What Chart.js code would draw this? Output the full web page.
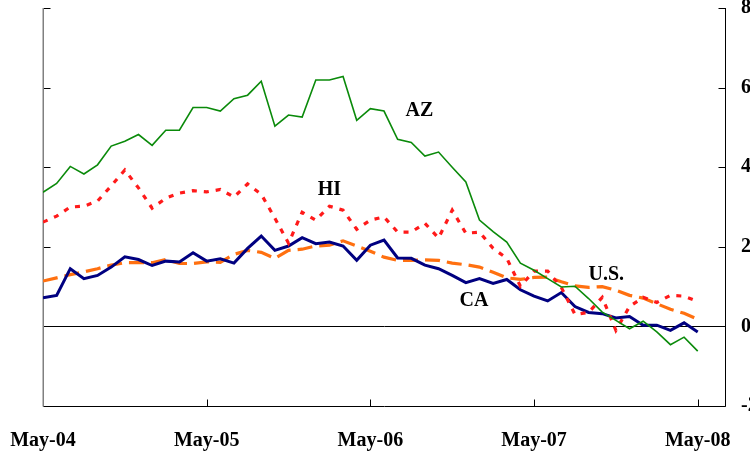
<!DOCTYPE html>
<html>
<head>
<meta charset="utf-8">
<script src="https://cdn.jsdelivr.net/npm/chart.js@4"></script>
<style>
  html, body { margin: 0; padding: 0; background: #ffffff; }
  #c { display: block; }
</style>
</head>
<body>
<canvas id="c" width="750" height="453"></canvas>
<script>
// ---- DATA (monthly, May-04 .. May-08) ----
const months = [
  'May-04','Jun-04','Jul-04','Aug-04','Sep-04','Oct-04','Nov-04','Dec-04','Jan-05','Feb-05','Mar-05','Apr-05',
  'May-05','Jun-05','Jul-05','Aug-05','Sep-05','Oct-05','Nov-05','Dec-05','Jan-06','Feb-06','Mar-06','Apr-06',
  'May-06','Jun-06','Jul-06','Aug-06','Sep-06','Oct-06','Nov-06','Dec-06','Jan-07','Feb-07','Mar-07','Apr-07',
  'May-07','Jun-07','Jul-07','Aug-07','Sep-07','Oct-07','Nov-07','Dec-07','Jan-08','Feb-08','Mar-08','Apr-08',
  'May-08'
];
const azValues = [3.37,3.59,4.02,3.83,4.06,4.53,4.65,4.82,4.55,4.93,4.93,5.50,5.50,5.41,5.72,5.81,6.16,5.03,5.31,5.26,6.19,6.19,6.28,5.18,5.47,5.41,4.70,4.62,4.28,4.38,4.00,3.63,2.67,2.38,2.12,1.59,1.41,1.20,0.99,1.01,0.70,0.36,0.15,-0.06,0.13,-0.14,-0.46,-0.27,-0.62];
const caValues = [0.72,0.78,1.45,1.20,1.28,1.49,1.75,1.68,1.53,1.64,1.62,1.85,1.64,1.70,1.59,1.96,2.27,1.91,2.02,2.23,2.08,2.12,2.02,1.66,2.04,2.17,1.72,1.71,1.54,1.45,1.28,1.10,1.20,1.08,1.18,0.92,0.76,0.64,0.85,0.50,0.35,0.32,0.21,0.25,0.03,0.03,-0.10,0.09,-0.14];
const usValues = [1.14,1.22,1.30,1.37,1.45,1.54,1.60,1.60,1.60,1.68,1.58,1.58,1.62,1.61,1.81,1.91,1.86,1.71,1.91,1.94,2.02,2.04,2.15,2.02,1.89,1.74,1.66,1.66,1.67,1.66,1.59,1.55,1.49,1.36,1.22,1.18,1.23,1.24,1.12,1.02,0.98,1.00,0.91,0.78,0.71,0.57,0.43,0.33,0.18];
const hiValues = [2.62,2.77,3.00,3.02,3.15,3.53,3.93,3.48,2.97,3.22,3.35,3.41,3.38,3.44,3.25,3.58,3.32,2.72,2.09,2.87,2.67,3.02,2.92,2.44,2.67,2.75,2.37,2.37,2.59,2.22,2.92,2.34,2.37,1.96,1.71,1.01,1.39,1.39,0.98,0.30,0.35,0.73,-0.10,0.50,0.73,0.60,0.78,0.76,0.63];
const xTickMonths = [0, 12, 24, 36, 48];
const xTickLabels = ['May-04','May-05','May-06','May-07','May-08'];
const yTicks = [-2, 0, 2, 4, 6, 8];
const seriesNames = ['AZ', 'HI', 'CA', 'U.S.'];
// label anchors in data coordinates (month index, value)
const labelMonth = [27.6, 21.0, 31.6, 41.3];
const labelValue = [5.42, 3.43, 0.64, 1.30];

const FONT = "'Liberation Serif', 'Times New Roman', serif";
const toXY = arr => arr.map((v, i) => ({ x: i, y: v }));

const axesPlugin = {
  id: 'axesPlugin',
  beforeDatasetsDraw(chart) {
    const ctx = chart.ctx;
    const xs = chart.scales.x, ys = chart.scales.y;
    const L = Math.round(xs.left) + 0.5, R = Math.round(xs.right) + 0.5;
    const T = Math.round(ys.top), B = Math.round(ys.bottom) + 0.5;
    ctx.save();
    ctx.lineWidth = 1;
    // zero line
    const y0 = Math.round(ys.getPixelForValue(0)) + 0.5;
    ctx.strokeStyle = '#000000';
    ctx.beginPath(); ctx.moveTo(L, y0); ctx.lineTo(R, y0); ctx.stroke();
    // bottom axis
    ctx.beginPath(); ctx.moveTo(L, B); ctx.lineTo(R, B); ctx.stroke();
    // right axis
    ctx.beginPath(); ctx.moveTo(R, T); ctx.lineTo(R, B); ctx.stroke();
    // y ticks (inside on both sides)
    yTicks.forEach(v => {
      const y = Math.round(ys.getPixelForValue(v)) + 0.5;
      ctx.beginPath(); ctx.moveTo(R - 7, y); ctx.lineTo(R, y); ctx.stroke();
      ctx.beginPath(); ctx.moveTo(L, y); ctx.lineTo(L + 7, y); ctx.stroke();
    });
    // x ticks (inside, upward)
    xTickMonths.slice(1).forEach(m => {
      const x = Math.round(xs.getPixelForValue(m)) + 0.5;
      ctx.beginPath(); ctx.moveTo(x, B - 7); ctx.lineTo(x, B); ctx.stroke();
    });
    // left axis (grey)
    ctx.strokeStyle = '#808080';
    ctx.lineWidth = 1.5;
    ctx.beginPath(); ctx.moveTo(L - 0.25, T); ctx.lineTo(L - 0.25, B); ctx.stroke();
    ctx.restore();
  },
  afterDatasetsDraw(chart) {
    const ctx = chart.ctx;
    const xs = chart.scales.x, ys = chart.scales.y;
    ctx.save();
    ctx.fillStyle = '#000000';
    ctx.font = 'bold 20px ' + FONT;
    ctx.textAlign = 'center';
    ctx.textBaseline = 'middle';
    seriesNames.forEach((n, i) => {
      ctx.fillText(n, xs.getPixelForValue(labelMonth[i]), ys.getPixelForValue(labelValue[i]));
    });
    ctx.restore();
  }
};

new Chart(document.getElementById('c'), {
  type: 'line',
  data: {
    datasets: [
      { label: 'AZ', data: toXY(azValues), borderColor: '#0a8a0a', borderWidth: 1.6, pointRadius: 0, tension: 0, fill: false, order: 1 },
      { label: 'HI', data: toXY(hiValues), borderColor: '#ff1a1a', borderWidth: 3.2, borderDash: [5, 7], pointRadius: 0, tension: 0, fill: false, order: 2 },
      { label: 'CA', data: toXY(caValues), borderColor: '#000080', borderWidth: 3, pointRadius: 0, tension: 0, fill: false, order: 3 },
      { label: 'U.S.', data: toXY(usValues), borderColor: '#ff7010', borderWidth: 3.2, borderDash: [15, 7], pointRadius: 0, tension: 0, fill: false, order: 4 }
    ]
  },
  options: {
    responsive: false,
    animation: false,
    devicePixelRatio: 1,
    layout: { padding: { left: 43, top: 8, right: 0, bottom: 0 } },
    plugins: { legend: { display: false }, tooltip: { enabled: false } },
    scales: {
      x: {
        type: 'linear',
        min: 0,
        max: 50,
        grid: { display: false, drawTicks: false },
        border: { display: false },
        afterBuildTicks: s => { s.ticks = xTickMonths.map(v => ({ value: v })); },
        ticks: {
          autoSkip: false,
          maxRotation: 0,
          padding: 23,
          color: '#000000',
          font: { family: FONT, size: 20, weight: 'bold' },
          callback: v => xTickLabels[xTickMonths.indexOf(v)] || ''
        },
        afterFit: s => { s.height = 47; s.paddingLeft = 0; s.paddingRight = 0; }
      },
      y: {
        position: 'right',
        min: -2,
        max: 8,
        grid: { display: false, drawTicks: false },
        border: { display: false },
        afterBuildTicks: s => { s.ticks = yTicks.map(v => ({ value: v })); },
        ticks: {
          padding: 16,
          color: '#000000',
          font: { family: FONT, size: 20, weight: 'bold' }
        },
        afterFit: s => { s.width = 25; s.paddingTop = 0; s.paddingBottom = 0; }
      }
    }
  },
  plugins: [axesPlugin]
});
</script>
</body>
</html>
